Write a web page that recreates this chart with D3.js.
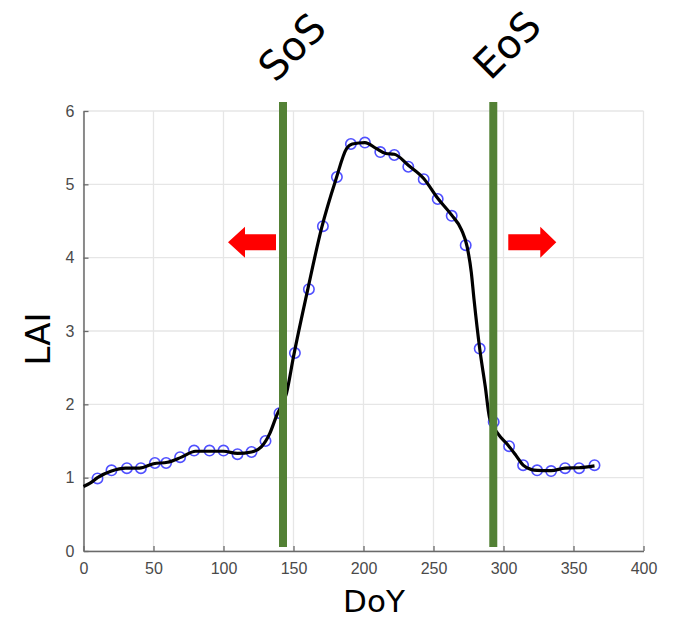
<!DOCTYPE html>
<html>
<head>
<meta charset="utf-8">
<script src="https://cdn.jsdelivr.net/npm/d3@7"></script>
<style>
  html, body { margin: 0; padding: 0; background: #fff; }
  svg { display: block; }
</style>
</head>
<body>
<svg id="chart" width="674" height="619"></svg>
<script>
// ---- data ----
const obsDays = [10, 20, 31, 41, 51, 59, 69, 79, 90, 100, 110, 120, 130, 140, 151, 161, 171, 181,
                 191, 201, 212, 222, 232, 243, 253, 263, 273, 283, 293, 304, 314, 324, 334, 344, 354, 365];
const obsLAI  = [0.99, 1.10, 1.13, 1.13, 1.20, 1.20, 1.28, 1.37, 1.37, 1.37, 1.32, 1.35, 1.50, 1.88, 2.70, 3.57, 4.43, 5.10,
                 5.55, 5.57, 5.44, 5.40, 5.24, 5.07, 4.80, 4.57, 4.17, 2.76, 1.76, 1.43, 1.17, 1.10, 1.09, 1.13, 1.13, 1.17];
const fitDays = [0, 5, 10, 20, 30, 40, 50, 60, 70, 80, 90, 100, 110, 120, 127, 133, 138, 145, 150, 160, 170, 180, 188, 192,
                 201, 209, 216, 222, 232, 243, 253, 263, 270, 274, 277, 279, 283, 287, 290, 296, 303, 309, 314, 320, 324, 334, 344, 354, 365];
const fitLAI  = [0.88, 0.93, 1.00, 1.09, 1.13, 1.13, 1.19, 1.21, 1.28, 1.36, 1.36, 1.36, 1.33, 1.35, 1.42, 1.60, 1.85, 2.15, 2.65, 3.55, 4.40, 5.05, 5.49, 5.55,
                 5.57, 5.49, 5.42, 5.41, 5.26, 5.08, 4.81, 4.58, 4.38, 4.15, 3.80, 3.42, 2.76, 2.24, 1.82, 1.60, 1.45, 1.30, 1.17, 1.11, 1.10, 1.095, 1.13, 1.135, 1.16];
const xTicks = [0, 50, 100, 150, 200, 250, 300, 350, 400];
const yTicks = [0, 1, 2, 3, 4, 5, 6];
const markerDays = [142.5, 292.7];
const markerLabels = ["SoS", "EoS"];
const arrowLAI = 4.21;

// ---- layout ----
const svg = d3.select("#chart");
const x = d3.scaleLinear().domain([0, 400]).range([83.5, 643.5]);
const y = d3.scaleLinear().domain([0, 6]).range([551, 111]);

// grid
const grid = svg.append("g");
grid.selectAll("line.gx").data(xTicks).join("line")
  .attr("x1", d => x(d)).attr("x2", d => x(d))
  .attr("y1", y(0)).attr("y2", y(6))
  .attr("stroke", "#e6e6e6").attr("stroke-width", 1.3);
grid.selectAll("line.gy").data(yTicks).join("line")
  .attr("x1", x(0)).attr("x2", x(400))
  .attr("y1", d => y(d)).attr("y2", d => y(d))
  .attr("stroke", "#e6e6e6").attr("stroke-width", 1.3);

// axes
const fontTick = "'Liberation Sans', Arial, sans-serif";
const gx = svg.append("g").attr("transform", `translate(0,${y(0)})`)
  .call(d3.axisBottom(x).tickValues(xTicks).tickSizeInner(-5).tickSizeOuter(0).tickPadding(12).tickFormat(d3.format("d")));
const gy = svg.append("g").attr("transform", `translate(${x(0)},0)`)
  .call(d3.axisLeft(y).tickValues(yTicks).tickSizeInner(-5).tickSizeOuter(0).tickPadding(9).tickFormat(d3.format("d")));
[gx, gy].forEach(g => {
  g.select(".domain").attr("stroke", "#6a6a6a").attr("stroke-width", 1.5);
  g.selectAll(".tick line").attr("stroke", "#6a6a6a").attr("stroke-width", 1.3);
  g.selectAll(".tick text").attr("fill", "#4a4a4a").style("font-family", fontTick).style("font-size", "16px");
});

// observation circles
svg.append("g").selectAll("circle").data(obsDays).join("circle")
  .attr("cx", d => x(d)).attr("cy", (d, i) => y(obsLAI[i]))
  .attr("r", 5.2).attr("fill", "none").attr("stroke", "#5050ff").attr("stroke-width", 1.6);

// fitted curve
const line = d3.line().x(d => x(d[0])).y(d => y(d[1])).curve(d3.curveMonotoneX);
svg.append("path").datum(fitDays.map((d, i) => [d, fitLAI[i]]))
  .attr("d", line).attr("fill", "none").attr("stroke", "#000").attr("stroke-width", 3.2)
  .attr("stroke-linejoin", "round");

// green marker bars
const barW = 8;
svg.append("g").selectAll("rect").data(markerDays).join("rect")
  .attr("x", d => x(d) - barW / 2).attr("width", barW)
  .attr("y", y(6) - 9).attr("height", (y(0) - 4) - (y(6) - 9))
  .attr("fill", "#538135");

// labels SoS / EoS
const labelPos = [[292, 47], [507, 45]];
svg.append("g").selectAll("text").data(markerLabels).join("text")
  .attr("transform", (d, i) => `translate(${labelPos[i][0]},${labelPos[i][1]}) rotate(-45)`)
  .attr("text-anchor", "middle").attr("dominant-baseline", "central")
  .style("font-family", "'DejaVu Sans', Verdana, sans-serif").style("font-size", "40px")
  .attr("fill", "#000").text(d => d);

// red arrows
const ay = y(arrowLAI);
function arrowPath(tipX, baseX, headX) {
  const sh = 8, hh = 15.5;
  return `M${tipX},${ay} L${headX},${ay - hh} L${headX},${ay - sh} L${baseX},${ay - sh} L${baseX},${ay + sh} L${headX},${ay + sh} L${headX},${ay + hh} Z`;
}
const sosLeft = x(markerDays[0]) - barW / 2;
const eosRight = x(markerDays[1]) + barW / 2;
svg.append("path").attr("d", arrowPath(sosLeft - 51, sosLeft - 3, sosLeft - 34)).attr("fill", "#ff0000");
svg.append("path").attr("d", arrowPath(eosRight + 59, eosRight + 11, eosRight + 43)).attr("fill", "#ff0000");

// axis titles
svg.append("text")
  .attr("transform", `translate(${37.5 + 12},339) rotate(-90)`)
  .attr("text-anchor", "middle")
  .style("font-family", "'DejaVu Sans', Verdana, sans-serif").style("font-size", "34px")
  .attr("fill", "#000").text("LAI");
svg.append("text")
  .attr("x", 374).attr("y", 612)
  .attr("text-anchor", "middle")
  .style("font-family", "'DejaVu Sans', Verdana, sans-serif").style("font-size", "31px")
  .attr("fill", "#000").text("DoY");
</script>
</body>
</html>
